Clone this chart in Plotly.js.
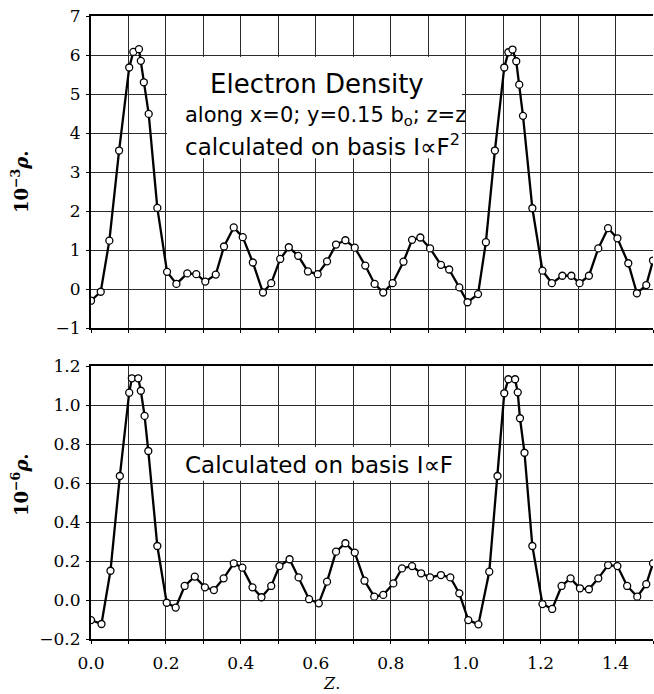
<!DOCTYPE html>
<html>
<head>
<meta charset="utf-8">
<script src="https://cdn.plot.ly/plotly-3.0.1.min.js"></script>
<style>html,body{margin:0;padding:0;background:#fff;}#chart{width:654px;height:694px;}</style>
</head>
<body>
<div id="chart"></div>
<script>
// Top panel: electron density, I ∝ F^2 (units of 10^-3 rho)
var zTop = [0.0,0.026,0.049,0.075,0.102,0.113,0.128,0.133,0.141,0.154,0.177,0.203,0.228,0.257,0.281,0.305,0.333,0.355,0.381,0.405,0.432,0.459,0.481,0.505,0.528,0.553,0.579,0.605,0.630,0.654,0.679,0.704,0.732,0.757,0.780,0.805,0.834,0.857,0.879,0.905,0.934,0.956,0.983,1.005,1.033,1.054,1.078,1.103,1.114,1.125,1.135,1.143,1.153,1.178,1.205,1.230,1.258,1.282,1.304,1.329,1.354,1.380,1.405,1.434,1.457,1.482,1.500];
var rhoTop = [-0.30,-0.07,1.24,3.55,5.68,6.08,6.15,5.85,5.30,4.49,2.08,0.44,0.13,0.40,0.38,0.19,0.37,1.09,1.58,1.33,0.68,-0.09,0.15,0.77,1.07,0.85,0.45,0.38,0.71,1.14,1.25,1.06,0.60,0.13,-0.09,0.15,0.70,1.26,1.32,1.04,0.62,0.50,0.04,-0.34,-0.13,1.20,3.55,5.68,6.07,6.14,5.84,5.24,4.44,2.07,0.47,0.15,0.34,0.34,0.15,0.34,1.04,1.56,1.30,0.66,-0.11,0.10,0.73];

// Bottom panel: I ∝ F (units of 10^-6 rho)
var zBot = [0.0,0.028,0.052,0.077,0.102,0.109,0.126,0.133,0.143,0.153,0.177,0.202,0.226,0.250,0.277,0.304,0.328,0.354,0.381,0.404,0.431,0.455,0.481,0.503,0.530,0.554,0.582,0.608,0.630,0.654,0.679,0.704,0.730,0.756,0.780,0.807,0.830,0.857,0.881,0.905,0.934,0.959,0.983,1.007,1.034,1.063,1.085,1.103,1.114,1.132,1.139,1.145,1.157,1.178,1.205,1.231,1.256,1.280,1.305,1.329,1.354,1.380,1.405,1.431,1.458,1.482,1.500];
var rhoBot = [-0.103,-0.123,0.150,0.636,1.063,1.137,1.137,1.073,0.944,0.764,0.277,-0.014,-0.039,0.072,0.120,0.065,0.051,0.111,0.188,0.166,0.065,0.014,0.072,0.174,0.209,0.116,0.004,-0.017,0.094,0.248,0.291,0.243,0.099,0.017,0.026,0.085,0.162,0.174,0.137,0.116,0.128,0.116,0.034,-0.103,-0.125,0.145,0.636,1.060,1.132,1.132,1.065,0.932,0.755,0.277,-0.021,-0.046,0.072,0.111,0.060,0.055,0.111,0.179,0.174,0.072,0.017,0.081,0.188];

var topTitle = "Electron Density";
var topLine2 = "along x=0; y=0.15 b<sub>o</sub>; z=z";
var topLine3 = "calculated on basis I\u221DF<sup>2</sup>";
var botLabel = "Calculated on basis I\u221DF";
var yTitleTop = "10<sup>\u22123</sup><i>\u03C1</i>.";
var yTitleBot = "10<sup>\u22126</sup><i>\u03C1</i>.";
var xTitle = "<i>Z</i>.";

var serif = "DejaVu Serif, Liberation Serif, serif";
var sans = "DejaVu Sans, sans-serif";
var gridC = "#2a2a2a";

function trace(x, y, xa, ya) {
  return {
    x: x, y: y, xaxis: xa, yaxis: ya, type: "scatter", mode: "lines+markers",
    line: {color: "#000", width: 2.3},
    marker: {symbol: "circle", size: 7, color: "#fff", line: {color: "#000", width: 1.3}},
    hoverinfo: "skip", showlegend: false, cliponaxis: true
  };
}

var xCommon = {
  range: [0, 1.5], dtick: 0.2, tick0: 0, tickformat: ".1f",
  showgrid: true, gridcolor: gridC, gridwidth: 1,
  minor: {dtick: 0.1, showgrid: true, gridcolor: gridC, gridwidth: 1, ticks: "outside", ticklen: 3, tickcolor: "#000"},
  zeroline: false, showline: true, linecolor: "#000", linewidth: 2, mirror: true,
  ticks: "outside", ticklen: 3, tickcolor: "#000",
  tickfont: {family: serif, size: 17, color: "#000"}, fixedrange: true
};

var layout = {
  width: 654, height: 694,
  margin: {l: 91, r: 1, t: 16, b: 55},
  paper_bgcolor: "#fff", plot_bgcolor: "#fff",
  showlegend: false,
  xaxis: Object.assign({}, xCommon, {anchor: "y", domain: [0, 1], ticklabelstandoff: 5}),
  xaxis2: Object.assign({}, xCommon, {anchor: "y2", domain: [0, 1], showticklabels: false, matches: "x"}),
  yaxis: {
    domain: [0, 0.4382], range: [-0.2, 1.2], dtick: 0.2, tick0: 0, tickformat: ".1f",
    showgrid: true, gridcolor: gridC, gridwidth: 1, zeroline: false,
    showline: true, linecolor: "#000", linewidth: 2,
    ticks: "outside", ticklen: 3, tickcolor: "#000", ticklabelstandoff: 2,
    tickfont: {family: serif, size: 17, color: "#000"}, anchor: "x", fixedrange: true
  },
  yaxis2: {
    domain: [0.4992, 1], range: [-1, 7], dtick: 1, tick0: 0,
    showgrid: true, gridcolor: gridC, gridwidth: 1, zeroline: false,
    showline: true, linecolor: "#000", linewidth: 2,
    ticks: "outside", ticklen: 3, tickcolor: "#000", ticklabelstandoff: 2,
    tickfont: {family: serif, size: 17, color: "#000"}, anchor: "x2", fixedrange: true
  },
  shapes: [
    {type: "rect", xref: "x2", yref: "y2", x0: 0.203, x1: 0.99, y0: 3.35, y1: 5.95,
     fillcolor: "#fff", line: {width: 0}, layer: "between"},
    {type: "rect", xref: "x", yref: "y", x0: 0.205, x1: 0.99, y0: 0.612, y1: 0.785,
     fillcolor: "#fff", line: {width: 0}, layer: "between"}
  ],
  annotations: [
    {text: topTitle, xref: "x2", yref: "y2", x: 0.603, y: 5.25, showarrow: false,
     xanchor: "center", yanchor: "middle", font: {family: sans, size: 26, color: "#000"}},
    {text: topLine2, xref: "x2", yref: "y2", x: 0.245, y: 4.44, showarrow: false,
     xanchor: "left", yanchor: "middle", font: {family: sans, size: 21, color: "#000"}},
    {text: topLine3, xref: "x2", yref: "y2", x: 0.245, y: 3.69, showarrow: false,
     xanchor: "left", yanchor: "middle", font: {family: sans, size: 23, color: "#000"}},
    {text: botLabel, xref: "x", yref: "y", x: 0.245, y: 0.69, showarrow: false,
     xanchor: "left", yanchor: "middle", font: {family: sans, size: 23, color: "#000"}},
    {text: yTitleTop, xref: "paper", yref: "paper", x: -0.1263, y: 0.7335, showarrow: false,
     textangle: -90, xanchor: "center", yanchor: "middle", font: {family: serif, size: 18, color: "#000", weight: "bold"}},
    {text: yTitleBot, xref: "paper", yref: "paper", x: -0.1263, y: 0.2472, showarrow: false,
     textangle: -90, xanchor: "center", yanchor: "middle", font: {family: serif, size: 18, color: "#000", weight: "bold"}},
    {text: xTitle, xref: "paper", yref: "paper", x: 0.4288, y: 1, yshift: -(639 - 16) - 44, showarrow: false,
     xanchor: "center", yanchor: "middle", font: {family: serif, size: 16, color: "#000"}}
  ]
};

Plotly.newPlot("chart", [trace(zTop, rhoTop, "x2", "y2"), trace(zBot, rhoBot, "x", "y")], layout,
  {staticPlot: true, displayModeBar: false});
</script>
</body>
</html>
